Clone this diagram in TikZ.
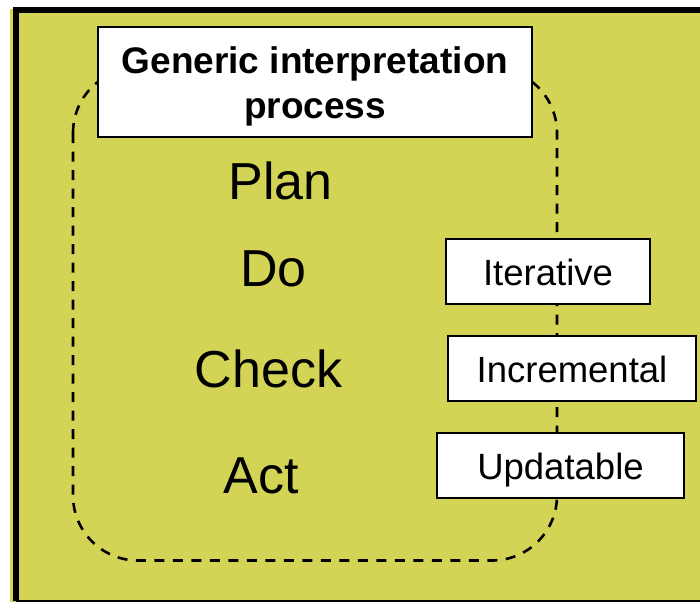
\documentclass[tikz,border=0pt]{standalone}
\usepackage{fontspec}
\setmainfont{Liberation Sans}
\usetikzlibrary{positioning}
\usetikzlibrary{calc}

\definecolor{bgolive}{RGB}{211,211,85}

\begin{document}
\begin{tikzpicture}[
                x=1pt, y=-1pt,
                every node/.style={inner sep=0pt},
                stepname/.style={font=\fontsize{52}{62}\selectfont, anchor=base},
                tagbox/.style={draw, line width=2pt, fill=white, minimum height=65pt, text height=27pt, text depth=0pt, font=\fontsize{36.5}{44}\selectfont},
                titlebox/.style={draw, line width=2pt, fill=white, minimum width=434pt, minimum height=110pt, align=center, font=\bfseries\fontsize{37}{45}\selectfont}
            ]

            % Frame
            \useasboundingbox (0,0) rectangle (700,602);
            \fill[bgolive] (10,9) rectangle (700,602);
            \draw[line width=6pt] (16,601) -- (16,10) -- (700,10);
            \draw[line width=1.5pt] (16,601) -- (700,601);

            % Dashed loop round the process
            \draw[dash pattern=on 10pt off 8.5pt, line width=2.6pt, rounded corners=65pt] (73,68) rectangle (557,560.5);

            % Define nodes
            \node[titlebox] (title) at (315,82) {\rule{0pt}{35pt}Generic interpretation\\process};

            \node[stepname] (plan) at (280.5,199) {Plan};
            \node[stepname] (do) at (273.5,286) {Do};
            \node[stepname] (check) at (268.5,387) {Check};
            \node[stepname] (act) at (261,493) {Act};

            \node[tagbox, minimum width=204pt] (iter) at (548,271.5) {Iterative};
            \node[tagbox, minimum width=248pt] (incr) at (572,368.5) {Incremental};
            \node[tagbox, minimum width=247pt] (upd) at (560.5,465.5) {Updatable};

        \end{tikzpicture}
\end{document}
